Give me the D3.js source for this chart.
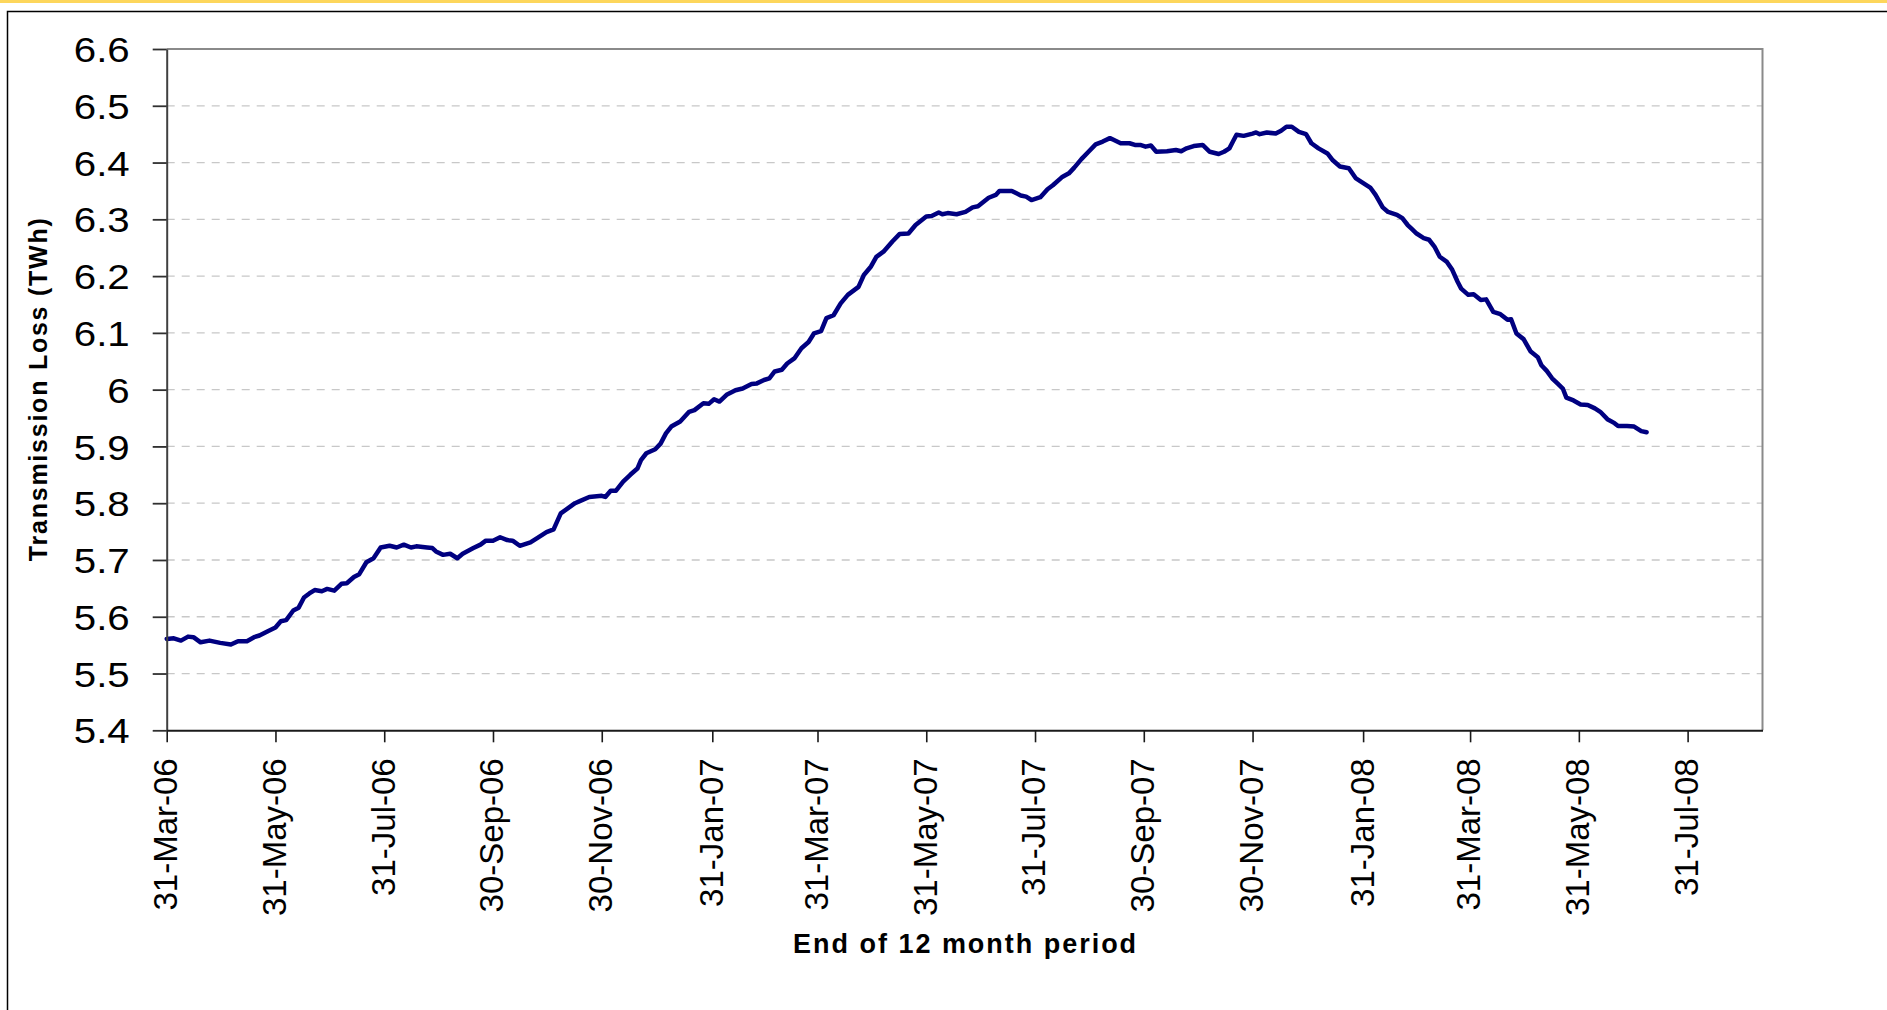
<!DOCTYPE html>
<html>
<head>
<meta charset="utf-8">
<script src="https://cdn.jsdelivr.net/npm/d3@7"></script>
<style>
html,body{margin:0;padding:0;background:#fff;overflow:hidden}
</style>
</head>
<body>
<svg id="chart" width="1887" height="1010"></svg>
<script>
// ---- data ----
const startDateStr = "2006-03-31";
const endDateStr = "2008-09-11";
const tickDates = ["2006-03-31","2006-05-31","2006-07-31","2006-09-30","2006-11-30","2007-01-31","2007-03-31","2007-05-31","2007-07-31","2007-09-30","2007-11-30","2008-01-31","2008-03-31","2008-05-31","2008-07-31"];
const tickLabels = ["31-Mar-06","31-May-06","31-Jul-06","30-Sep-06","30-Nov-06","31-Jan-07","31-Mar-07","31-May-07","31-Jul-07","30-Sep-07","30-Nov-07","31-Jan-08","31-Mar-08","31-May-08","31-Jul-08"];
const yTickValues = [5.4,5.5,5.6,5.7,5.8,5.9,6.0,6.1,6.2,6.3,6.4,6.5,6.6];
const yTickLabels = ["5.4","5.5","5.6","5.7","5.8","5.9","6","6.1","6.2","6.3","6.4","6.5","6.6"];

// days after 31-Mar-2006 (end of 12 month period)
const dayOffsets = [
  0,4,8,12,15,19,24,30,36,40,45,49,52,57,61,64,67,71,74,77,80,83,87,90,94,98,101,105,108,112,
  116,120,125,129,133,137,140,146,149,151,155,159,163,166,172,176,179,183,187,191,194,198,204,208,213,217,
  221,229,232,237,244,246,249,252,256,260,264,
  266,269,274,277,280,283,288,293,296,301,304,307,310,314,319,323,328,331,335,338,341,345,348,352,356,360,
  363,367,370,374,378,382,388,391,395,398,402,407,411,416,420,426,429,433,
  435,438,443,448,452,455,461,465,467,471,474,479,482,485,490,494,497,502,506,509,513,517,521,525,529,531,
  535,540,543,546,549,552,555,561,566,569,572,576,581,585,590,593,596,598,600,604,609,611,613,617,622,625,
  628,631,635,
  639,642,646,651,654,658,663,667,670,675,678,682,685,690,693,696,698,701,705,708,711,714,718,721,724,726,
  730,733,737,740,744,748,752,754,757,761,765,769,771,774,777,780,783,785,789,793,797,801,804,808,812,814,
  819,823,827,830
];
// transmission loss, TWh
const lossTWh = [
  5.561,5.562,5.558,5.565,5.564,5.555,5.558,5.554,5.551,5.557,5.557,5.564,5.567,5.575,5.581,5.592,5.594,5.611,5.616,5.634,
  5.641,5.647,5.645,5.649,5.646,5.658,5.659,5.670,5.675,5.696,5.703,5.722,5.725,5.722,5.727,5.722,5.724,5.722,5.721,5.715,
  5.709,5.711,5.703,5.711,5.721,5.727,5.734,5.734,5.740,5.735,5.734,5.725,5.731,5.739,5.749,5.754,
  5.782,5.800,5.804,5.811,5.813,5.811,5.822,5.822,5.838,5.850,5.861,
  5.876,5.888,5.895,5.905,5.923,5.935,5.944,5.961,5.964,5.976,5.975,5.983,5.979,5.991,5.999,6.002,6.010,6.011,6.017,6.020,
  6.032,6.035,6.046,6.055,6.073,6.084,6.099,6.103,6.126,6.131,6.152,6.167,6.181,6.202,6.217,6.234,6.243,6.261,6.274,6.275,
  6.290,6.305,6.306,6.312,
  6.309,6.311,6.309,6.313,6.321,6.323,6.338,6.343,6.350,6.350,6.350,6.342,6.340,6.334,6.339,6.353,6.360,6.374,6.381,6.391,
  6.406,6.419,6.432,6.437,6.443,6.440,6.434,6.434,6.431,6.431,6.428,6.430,6.419,6.420,6.422,6.420,6.425,6.429,6.431,6.419,
  6.415,6.419,6.425,6.437,6.449,6.447,6.451,6.453,6.450,6.453,6.451,6.456,6.463,6.463,6.454,
  6.450,6.434,6.425,6.416,6.404,6.393,6.390,6.372,6.366,6.356,6.343,6.321,6.313,6.308,6.302,6.290,6.284,6.275,6.267,6.264,
  6.252,6.234,6.225,6.211,6.190,6.178,6.167,6.168,6.158,6.159,6.137,6.133,6.123,6.124,6.099,6.089,6.067,6.057,6.043,6.033,
  6.020,6.011,6.002,5.986,5.981,5.974,5.973,5.967,5.961,5.948,5.941,5.936,5.936,5.935,5.927,5.925
];
const xTitle = "End of 12 month period";
const yTitle = "Transmission Loss (TWh)";

// ---- drawing ----
const W = 1887, H = 1010;
const FONT = "'Liberation Sans', Arial, Helvetica, sans-serif";
const P = {left: 166.7, right: 1762.5, top: 49, bottom: 730.3};
const svg = d3.select("#chart");

svg.append("rect").attr("width", W).attr("height", H).attr("fill", "#fff");
svg.append("rect").attr("x", 0).attr("y", 0).attr("width", W).attr("height", 3).attr("fill", "#FDD65B");
svg.append("rect").attr("x", 7.5).attr("y", 11.5).attr("width", W + 40).attr("height", H + 40)
  .attr("fill", "none").attr("stroke", "#000").attr("stroke-width", 1.5);

const parse = d3.utcParse("%Y-%m-%d");
const start = parse(startDateStr);
const x = d3.scaleUtc().domain([start, parse(endDateStr)]).range([P.left, P.right]);
const y = d3.scaleLinear().domain([5.4, 6.6]).range([P.bottom, P.top]);

const series = dayOffsets.map((d, i) => ({date: d3.utcDay.offset(start, d), v: lossTWh[i]}));

// gridlines
svg.append("g").selectAll("line")
  .data(yTickValues.filter(v => v > 5.45 && v < 6.55))
  .join("line")
  .attr("x1", P.left).attr("x2", P.right)
  .attr("y1", d => y(d)).attr("y2", d => y(d))
  .attr("stroke", "#c8c8c8").attr("stroke-width", 1.3).attr("stroke-dasharray", "8,7");

// plot frame (top/right)
svg.append("path")
  .attr("d", `M${P.left},${P.top}H${P.right}V${P.bottom}`)
  .attr("fill", "none").attr("stroke", "#8a8a8a").attr("stroke-width", 2);

// line
svg.append("path")
  .datum(series)
  .attr("fill", "none")
  .attr("stroke", "#000080")
  .attr("stroke-width", 4.5)
  .attr("stroke-linejoin", "round")
  .attr("stroke-linecap", "round")
  .attr("d", d3.line().x(d => x(d.date)).y(d => y(d.v)));

// y axis
const yAxis = d3.axisLeft(y).tickValues(yTickValues).tickSize(14).tickSizeOuter(0)
  .tickFormat(d => yTickLabels[yTickValues.findIndex(v => Math.abs(v - d) < 1e-9)]);
const gy = svg.append("g").attr("transform", `translate(${P.left},0)`).call(yAxis);
gy.attr("font-size", null).attr("font-family", null);
gy.select(".domain").attr("stroke", "#404040").attr("stroke-width", 2);
gy.selectAll(".tick line").attr("stroke", "#303030").attr("stroke-width", 1.8);
gy.selectAll(".tick text")
  .attr("font-family", FONT).attr("font-size", 35).attr("fill", "#000")
  .attr("x", 0).attr("dy", "0.36em").attr("text-anchor", "end")
  .attr("transform", "translate(-37,0) scale(1.15,1)");

// x axis
const xAxis = d3.axisBottom(x).tickValues(tickDates.map(parse)).tickSize(12).tickSizeOuter(0)
  .tickFormat((d, i) => tickLabels[i]);
const gx = svg.append("g").attr("transform", `translate(0,${P.bottom})`).call(xAxis);
gx.attr("font-size", null).attr("font-family", null);
gx.select(".domain").attr("stroke", "#1a1a1a").attr("stroke-width", 2);
gx.selectAll(".tick line").attr("stroke", "#1a1a1a").attr("stroke-width", 1.6);
gx.selectAll(".tick text")
  .attr("font-family", FONT).attr("font-size", 33).attr("fill", "#000")
  .attr("transform", "rotate(-90)")
  .attr("x", -28).attr("y", 0).attr("dy", "0.3em")
  .attr("text-anchor", "end");

// titles
svg.append("text")
  .attr("x", (P.left + P.right) / 2).attr("y", 953)
  .attr("text-anchor", "middle")
  .attr("font-family", FONT).attr("font-weight", "bold").attr("font-size", 27)
  .attr("textLength", 343).attr("lengthAdjust", "spacing")
  .attr("fill", "#000")
  .text(xTitle);

svg.append("text")
  .attr("transform", `translate(47,${(P.top + P.bottom) / 2}) rotate(-90)`)
  .attr("text-anchor", "middle")
  .attr("font-family", FONT).attr("font-weight", "bold").attr("font-size", 25)
  .attr("textLength", 343).attr("lengthAdjust", "spacing")
  .attr("fill", "#000")
  .text(yTitle);
</script>
</body>
</html>
